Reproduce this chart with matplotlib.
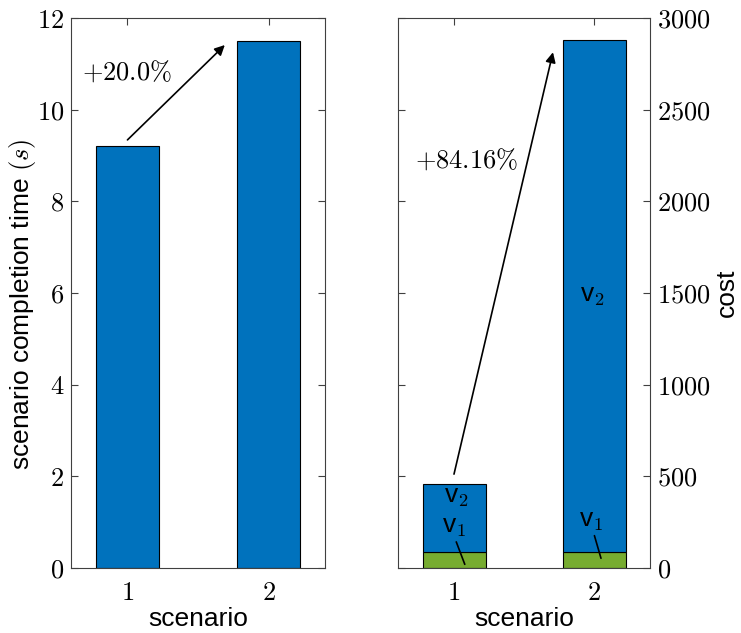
import numpy as np
import matplotlib.pyplot as plt
from matplotlib.ticker import FuncFormatter

plt.rcParams['mathtext.fontset'] = 'cm'
plt.rcParams['font.family'] = ['Liberation Sans', 'DejaVu Sans']

# completion time per scenario (s)
scenarios = [1, 2]
completion_time = [9.2, 11.5]

# cost split by component
cost_v1 = [85, 85]
cost_v2 = [371.1, 2795]

BLUE = '#0072BD'
GREEN = '#77AC30'
AXCOL = '#404040'
FS = 19
BAR_W = 0.45

math_fmt = FuncFormatter(lambda v, p: f'${v:g}$')


def style_axes(ax):
    for sp in ax.spines.values():
        sp.set_color(AXCOL)
        sp.set_linewidth(0.8)
    ax.tick_params(direction='in', length=5, width=0.8, color=AXCOL,
                   labelsize=FS, top=True, bottom=True, left=True, right=True)
    ax.tick_params(axis='x', pad=9)
    ax.tick_params(axis='y', pad=5)
    ax.xaxis.set_major_formatter(math_fmt)
    ax.yaxis.set_major_formatter(math_fmt)
    ax.set_xlim(0.6, 2.4)
    ax.set_xticks(scenarios)
    ax.set_xlabel('scenario', fontsize=FS, labelpad=2)


fig = plt.figure(figsize=(7.41, 6.33), dpi=100)
ax1 = fig.add_axes([71 / 741, 65 / 633, 254 / 741, 550 / 633])
ax2 = fig.add_axes([398 / 741, 65 / 633, 252 / 741, 550 / 633])

# Left panel: completion time
ax1.bar(scenarios, completion_time, width=BAR_W, color=BLUE,
        edgecolor='black', linewidth=0.8, zorder=2)
style_axes(ax1)
ax1.set_ylim(0, 12)
ax1.set_yticks(np.arange(0, 13, 2))
ax1.set_ylabel(r'scenario completion time $(s)$', fontsize=FS)
ax1.yaxis.set_label_coords(-0.13, 0.48)

inc_time = (completion_time[1] - completion_time[0]) / completion_time[1] * 100
ax1.annotate('', xy=(1.69, 11.41), xytext=(1.0, 9.34),
             arrowprops=dict(arrowstyle='-|>', color='black', lw=1.2,
                             mutation_scale=15, shrinkA=0, shrinkB=0))
ax1.text(0.68, 10.82, rf'$+{inc_time:.1f}\%$', fontsize=FS, va='center', ha='left')

# Right panel: stacked cost
ax2.bar(scenarios, cost_v1, width=BAR_W, color=GREEN,
        edgecolor='black', linewidth=0.8, zorder=2)
ax2.bar(scenarios, cost_v2, width=BAR_W, bottom=cost_v1, color=BLUE,
        edgecolor='black', linewidth=0.8, zorder=2)
style_axes(ax2)
ax2.set_ylim(0, 3000)
ax2.set_yticks(np.arange(0, 3001, 500))
ax2.tick_params(labelleft=False, labelright=True)
ax2.yaxis.set_label_position('right')
ax2.set_ylabel('cost', fontsize=FS, labelpad=3)

total = np.array(cost_v1) + np.array(cost_v2)
inc_cost = (total[1] - total[0]) / total[1] * 100
ax2.annotate('', xy=(1.707, 2813), xytext=(1.0, 512),
             arrowprops=dict(arrowstyle='-|>', color='black', lw=1.2,
                             mutation_scale=15, shrinkA=0, shrinkB=0))
ax2.text(0.72, 2227, rf'$+{inc_cost:.2f}\%$', fontsize=FS, va='center', ha='left')

# component labels
ax2.text(1.02, 387, r'v$_2$', fontsize=FS, ha='center', va='center')
ax2.text(1.99, 1486, r'v$_2$', fontsize=FS, ha='center', va='center')
ax2.annotate(r'v$_1$', xy=(1.077, 20), xytext=(1.0, 223),
             fontsize=FS, ha='center', va='center',
             arrowprops=dict(arrowstyle='-', color='black', lw=1.2,
                             shrinkA=0, shrinkB=0, relpos=(0.55, 0)))
ax2.annotate(r'v$_1$', xy=(2.05, 53), xytext=(1.98, 257),
             fontsize=FS, ha='center', va='center',
             arrowprops=dict(arrowstyle='-', color='black', lw=1.2,
                             shrinkA=0, shrinkB=0, relpos=(0.6, 0)))

fig.savefig('out.png', dpi=100)
